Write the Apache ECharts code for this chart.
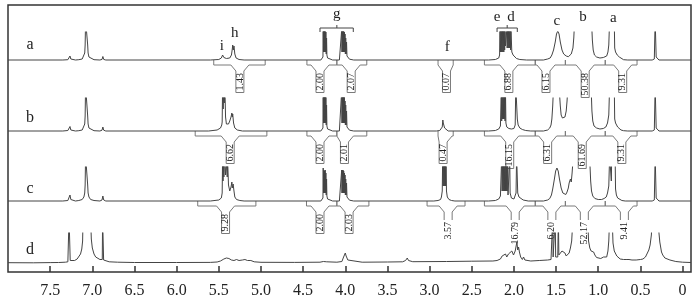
<!DOCTYPE html>
<html><head><meta charset="utf-8">
<script src="https://cdn.jsdelivr.net/npm/echarts@6/dist/echarts.min.js"></script>
<style>html,body{margin:0;padding:0;background:#fff}#c{width:699px;height:299px}</style>
</head><body><div id="c"></div>
<script>
// ================= DATA =================
const tickLabels = ['7.5','7.0','6.5','6.0','5.5','5.0','4.5','4.0','3.5','3.0','2.5','2.0','1.5','1.0','0.5','0'];
const rowNames = ['a','b','c','d'];

// spectra: [ppm, intensity] (intensity clipped by the display window of each trace)
const specA = [
[8.0,0],[7.35,0],[7.29,0.3],[7.275,1],[7.265,4],[7.255,1],[7.24,0.3],[7.2,0],
[7.16,0.3],[7.12,1],[7.10,3],[7.09,7],[7.085,15],[7.08,40],[7.06,40],[7.055,15],[7.05,7],[7.04,3],[7.02,1],[6.98,0.3],
[6.91,0],[6.885,0.6],[6.875,3.5],[6.865,0.6],[6.84,0],
[5.6,0],[5.5,0.5],[5.47,2],[5.455,5],[5.44,2.5],[5.41,1.5],[5.37,2],[5.35,5],[5.34,11],[5.335,15],[5.328,10],[5.32,14],[5.31,6],[5.295,2],[5.26,0.5],[5.2,0],
[4.29,0],[4.275,1],[4.265,3],[4.262,30],[4.258,8],[4.254,30],[4.25,8],[4.246,30],[4.242,8],[4.238,30],[4.234,8],[4.23,28],[4.226,6],[4.222,22],[4.218,5],[4.21,2],[4.19,0.8],[4.15,0],
[4.07,0],[4.05,1.5],[4.043,30],[4.039,8],[4.035,30],[4.031,8],[4.027,30],[4.023,8],[4.019,30],[4.015,8],[4.011,28],[4.007,8],[4.003,26],[3.999,6],[3.995,22],[3.99,6],[3.985,18],[3.98,4],[3.97,2],[3.95,0.8],[3.9,0],
[2.3,0],[2.22,0.5],[2.18,2],[2.17,5],[2.165,30],[2.16,8],[2.155,30],[2.15,8],[2.145,30],[2.14,8],[2.135,30],[2.13,8],[2.125,30],[2.12,8],[2.115,30],[2.11,10],[2.105,30],[2.10,14],[2.093,13],[2.085,30],[2.08,12],[2.075,30],[2.07,12],[2.065,30],[2.06,12],[2.055,30],[2.05,12],[2.045,30],[2.04,10],[2.035,30],[2.025,8],[2.01,5],[1.99,3],[1.97,1.5],[1.93,0.5],[1.85,0],
[1.65,0],[1.60,1],[1.57,2],[1.55,5],[1.53,10],[1.51,18],[1.495,26],[1.48,29],[1.465,26],[1.45,18],[1.43,10],[1.41,6],[1.38,4],[1.355,3.3],[1.34,3.5],[1.32,6],[1.30,12],[1.29,22],[1.28,40],[1.2,80],[1.08,40],[1.07,20],[1.06,10],[1.045,5],[1.02,3],[0.98,2],[0.94,2.5],
[0.90,4],[0.885,8],[0.875,15],[0.865,40],[0.81,40],[0.805,12],[0.795,8],[0.785,6],[0.775,5],[0.76,4],[0.75,3],[0.74,3],[0.73,1],[0.7,0.3],[0.65,0],
[0.36,0],[0.335,1],[0.33,3],[0.325,40],[0.318,40],[0.313,3],[0.305,1],[0.28,0],[-0.1,0]
];
const specB = [
[8.0,0],[7.35,0],[7.29,0.5],[7.275,1],[7.265,4.5],[7.255,1],[7.24,0.3],[7.2,0],
[7.16,0.3],[7.12,1],[7.10,3],[7.09,7],[7.085,15],[7.08,45],[7.06,45],[7.055,15],[7.05,7],[7.04,3],[7.02,1],[6.98,0.3],
[6.91,0],[6.885,0.8],[6.875,4],[6.865,0.8],[6.84,0],
[5.62,0],[5.52,1],[5.48,3],[5.465,6],[5.46,9],[5.455,45],[5.448,22],[5.442,45],[5.435,28],[5.428,45],[5.42,14],[5.41,7],[5.395,6],[5.385,7],[5.37,10],[5.355,14],[5.345,18],[5.34,14],[5.335,17],[5.325,8],[5.31,3],[5.28,1],[5.22,0],
[4.29,0],[4.275,1],[4.265,3],[4.262,40],[4.258,8],[4.254,40],[4.25,8],[4.246,40],[4.242,8],[4.238,40],[4.234,8],[4.23,36],[4.226,6],[4.222,26],[4.218,5],[4.21,2],[4.19,0.8],[4.15,0],
[4.07,0],[4.05,1.5],[4.043,40],[4.039,8],[4.035,40],[4.031,8],[4.027,40],[4.023,8],[4.019,40],[4.015,8],[4.011,34],[4.007,8],[4.003,30],[3.999,6],[3.995,26],[3.99,6],[3.985,20],[3.98,4],[3.97,2],[3.95,0.8],[3.9,0],
[2.92,0],[2.88,0.5],[2.86,1.5],[2.85,4],[2.843,11],[2.838,8],[2.833,10],[2.828,7],[2.822,3],[2.81,1],[2.78,0],
[2.3,0],[2.22,0.5],[2.18,2],[2.16,5],[2.15,40],[2.145,10],[2.14,40],[2.135,12],[2.13,40],[2.125,12],[2.12,40],[2.115,12],[2.11,40],[2.105,10],[2.10,40],[2.095,8],[2.085,4],[2.06,2.5],[2.03,2],[2.0,2.5],[1.985,6],[1.978,45],[1.968,45],[1.96,12],[1.95,6],[1.93,3],[1.9,1.5],[1.86,0.5],[1.8,0],
[1.65,0],[1.60,1],[1.575,3],[1.56,6],[1.55,12],[1.54,25],[1.53,45],[1.465,45],[1.45,25],[1.44,16],[1.425,13],[1.41,12.5],[1.395,14],[1.38,20],[1.37,30],[1.36,45],[1.2,100],[1.085,45],[1.075,20],[1.065,10],[1.05,5],[1.02,3],[0.98,2],[0.94,2.5],
[0.91,4],[0.89,8],[0.875,16],[0.865,45],[0.81,45],[0.805,12],[0.795,8],[0.785,6],[0.77,4],[0.75,2.5],[0.73,1],[0.7,0.3],[0.65,0],
[0.36,0],[0.335,1],[0.33,3],[0.325,45],[0.318,45],[0.313,3],[0.305,1],[0.28,0],[-0.1,0]
];
const specC = [
[8.0,0],[7.35,0],[7.29,0.5],[7.275,1.5],[7.265,6],[7.255,1.5],[7.24,0.5],[7.2,0],
[7.16,0.5],[7.12,1.5],[7.10,4],[7.09,8],[7.085,16],[7.08,45],[7.06,45],[7.055,16],[7.05,8],[7.04,4],[7.02,1.5],[6.98,0.5],
[6.91,0],[6.885,1],[6.875,5],[6.865,1],[6.84,0],
[5.6,0],[5.5,1],[5.47,3],[5.46,8],[5.455,45],[5.45,20],[5.445,45],[5.44,24],[5.43,45],[5.42,26],[5.41,38],[5.40,24],[5.395,40],[5.385,16],[5.37,10],[5.355,14],[5.345,19],[5.34,13],[5.33,17],[5.32,10],[5.31,4],[5.29,1.5],[5.25,0.5],[5.2,0],
[4.29,0],[4.275,1],[4.265,3],[4.262,33],[4.258,8],[4.254,31],[4.25,8],[4.246,30],[4.242,8],[4.238,31],[4.234,8],[4.23,28],[4.226,6],[4.222,22],[4.218,5],[4.21,2],[4.19,0.8],[4.15,0],
[4.07,0],[4.05,1.5],[4.043,31],[4.039,8],[4.035,31],[4.031,8],[4.027,31],[4.023,8],[4.019,30],[4.015,8],[4.011,28],[4.007,8],[4.003,26],[3.999,6],[3.995,22],[3.99,6],[3.985,18],[3.98,4],[3.97,2],[3.95,0.8],[3.9,0],
[2.95,0],[2.9,0.5],[2.87,1.5],[2.86,4],[2.85,10],[2.845,45],[2.84,15],[2.835,45],[2.83,15],[2.825,45],[2.82,15],[2.815,45],[2.81,15],[2.805,45],[2.80,10],[2.79,4],[2.77,1.5],[2.74,0.5],[2.7,0],
[2.3,0],[2.22,0.5],[2.18,2],[2.16,5],[2.145,45],[2.14,10],[2.135,45],[2.13,10],[2.125,45],[2.12,10],[2.115,45],[2.11,10],[2.105,45],[2.10,10],[2.095,45],[2.09,10],[2.085,45],[2.08,10],[2.075,45],[2.07,6],[2.06,4],[2.055,8],[2.05,45],[2.045,8],[2.03,3],[2.0,2],[1.985,3],[1.975,8],[1.968,45],[1.962,45],[1.955,8],[1.94,4],[1.92,2],[1.89,1],[1.83,0],
[1.65,0],[1.60,1],[1.575,2.5],[1.555,6],[1.54,12],[1.52,22],[1.505,30],[1.49,33],[1.475,30],[1.46,22],[1.44,13],[1.42,8],[1.40,6],[1.385,6.5],[1.37,9],[1.355,13],[1.345,18],[1.335,16],[1.33,22],[1.32,19],[1.31,28],[1.30,40],[1.2,100],[1.10,40],[1.09,20],[1.08,10],[1.065,5],[1.04,2.5],[1.0,1.5],[0.96,1.5],
[0.93,2.5],[0.905,4],[0.89,8],[0.875,15],[0.865,45],[0.85,45],[0.845,20],[0.84,45],[0.80,45],[0.795,12],[0.785,6],[0.77,3],[0.75,1.5],[0.72,0.5],[0.68,0],
[0.36,0],[0.335,1],[0.33,3],[0.325,45],[0.318,45],[0.313,3],[0.305,1],[0.28,0],[-0.1,0]
];
const specD = [
[8.0,0.3],[7.7,0.2],[7.5,0.4],[7.4,0.5],[7.32,0.8],[7.29,1.2],[7.28,2],[7.276,45],[7.266,45],[7.262,2.5],[7.24,2],[7.21,2.5],[7.18,4],[7.16,6],[7.14,9],[7.125,14],[7.115,22],[7.11,45],[7.02,45],[7.012,24],[7.0,15],[6.98,9],[6.96,6],[6.94,4.5],[6.91,3.5],[6.89,3],[6.882,3.5],[6.878,45],[6.87,45],[6.866,3],[6.85,2],[6.8,1.2],[6.7,0.8],[6.5,0.5],[6.0,0.5],[5.6,0.6],
[5.52,1],[5.48,2],[5.44,4],[5.41,5],[5.38,4.5],[5.35,3],[5.32,2.5],[5.29,3.5],[5.26,2.5],[5.22,3],[5.19,3.5],[5.16,2.5],[5.12,2.5],[5.08,1.2],[5.0,0.7],[4.6,0.6],
[4.3,0.8],[4.26,1.5],[4.24,2.2],[4.22,1.2],[4.1,0.8],[4.04,1.5],[4.02,6],[4.0,10],[3.99,7],[3.97,3],[3.95,1.2],[3.8,0.8],[3.5,1],[3.32,1.2],[3.285,2.5],[3.265,5],[3.25,2.5],[3.2,1.3],[2.8,1.5],[2.5,1.8],[2.25,2],
[2.2,2.5],[2.16,4],[2.14,7],[2.12,6],[2.10,9],[2.085,6],[2.065,9],[2.045,7],[2.025,12],[2.005,8],[1.985,12],[1.975,10],[1.965,21],[1.955,13],[1.945,16],[1.935,11],[1.92,6],[1.90,3.5],[1.886,6],[1.87,3],[1.85,2.5],[1.8,2],[1.7,2.5],[1.6,3],
[1.56,3.5],[1.545,5],[1.54,45],[1.535,6],[1.515,5],[1.51,45],[1.505,6],[1.48,6],[1.473,45],[1.467,8],[1.45,9],[1.43,12],[1.41,13],[1.395,10],[1.38,7],[1.36,7.5],[1.345,10],[1.33,15],[1.315,22],[1.30,45],[1.2,100],[1.125,45],[1.115,22],[1.10,15],[1.085,12],[1.07,10],[1.055,11],[1.04,8],[1.02,5.5],[1.0,4.5],[0.97,4.5],[0.95,5],[0.937,6],[0.92,5],
[0.90,6],[0.885,12],[0.875,22],[0.865,45],[0.835,45],[0.825,20],[0.81,12],[0.80,11],[0.78,7],[0.76,5],[0.74,4],[0.70,3.5],[0.66,3.5],[0.645,5],[0.635,3.5],[0.6,3],[0.55,3],[0.5,3.5],[0.47,4],[0.44,6],[0.42,8],[0.40,13],[0.385,18],[0.37,28],[0.36,45],[0.29,45],[0.28,30],[0.27,21],[0.25,11],[0.235,8],[0.21,5],[0.15,3],[0.08,1.5],[0.0,0.8],[-0.1,0.5]
];

// peak assignments above trace a
const peakNames = ['i','h','g','f','e','d','c','b','a'];
const peakPpm   = [5.465, 5.31, 4.10, 2.79, 2.20, 2.035, 1.49, 1.18, 0.82];
// group braces [from ppm, to ppm, centre ppm]
const braceRanges = [[4.30, 3.905, 4.10], [2.20, 1.96, 2.08]];

// integration regions [from, to, label position] and integral values
const integA = [[5.56,4.95,5.25],[4.455,4.10,4.30],[4.10,3.745,3.93],[2.90,2.72,2.80],[2.35,1.747,2.06],[1.747,1.39,1.62],[1.39,0.917,1.155],[0.917,0.54,0.71]];
const integLabelsA = ['1.43','2.00','2.07','0.07','6.88','6.15','50.38','9.31'];
const integB = [[5.78,4.93,5.365],[4.455,4.10,4.30],[4.10,3.745,4.01],[2.90,2.72,2.84],[2.35,1.747,2.05],[1.747,1.39,1.60],[1.39,0.917,1.19],[0.917,0.54,0.72]];
const integLabelsB = ['6.62','2.00','2.01','0.47','16.15','6.31','61.69','9.31'];
const integC = [[5.75,5.06,5.42],[4.46,4.10,4.30],[4.10,3.72,3.955],[3.03,2.58,2.78],[2.35,1.747,1.985],[1.747,1.39,1.55],[1.39,0.917,1.165],[0.917,0.54,0.69]];
const integLabelsC = ['9.28','2.00','2.03','3.57','16.79','6.20','52.17','9.41'];

// ================= LAYOUT / STYLE =================
const FONT = '"Liberation Serif", "Times New Roman", serif';
const LINE = '#444';
const BRK = '#7a7a7a';
const TXT = '#222';
const PPM_MIN = -0.1, PPM_MAX = 8.0;
const peakLabelH = [14, 27, 46, 13, 43, 43, 39, 43, 42];

const chart = echarts.init(document.getElementById('c'), null, {renderer: 'canvas'});

function hiddenX(gi){return {gridIndex:gi,type:'value',min:PPM_MIN,max:PPM_MAX,inverse:true,show:false};}
function hiddenY(gi,min,max){return {gridIndex:gi,type:'value',min:min,max:max,show:false};}

function textLen(t){let s=0;for(const ch of t){s+= ch==='.'?2.5:5;}return s;}

function bracketRenderer(ranges, labels, belowFrom){
  return function(params, api){
    const i = params.dataIndex;
    const r = ranges[i];
    const p1 = api.coord([r[0],0]);
    const x1 = p1[0], y0 = p1[1];
    const x2 = api.coord([r[1],0])[0];
    const xc = api.coord([r[2],0])[0];
    const t = labels[i];
    const len = textLen(t);
    const bw = 8, top = y0 + 11;
    const below = belowFrom != null && i >= belowFrom;
    const bh = below ? 8 : len + 4;
    const xl = Math.max(x1, xc - bw/2 - 5), xr = Math.min(x2, xc + bw/2 + 5);
    const children = [];
    const leftPts = [[x1,y0],[x1,y0+5],[xl,y0+5],[xc-bw/2,top],[xc-bw/2,top+bh]];
    const rightPts = [[xc+bw/2,top+bh],[xc+bw/2,top],[xr,y0+5],[x2,y0+5],[x2,y0]];
    if(below){
      children.push({type:'polyline',shape:{points:leftPts},style:{stroke:BRK,lineWidth:1,fill:null}});
      children.push({type:'polyline',shape:{points:rightPts},style:{stroke:BRK,lineWidth:1,fill:null}});
    } else {
      children.push({type:'polyline',shape:{points:leftPts.concat(rightPts)},style:{stroke:BRK,lineWidth:1,fill:null}});
    }
    const ty = below ? top + bh + len/2 + 2 : top + bh/2;
    children.push({type:'text',x:xc,y:ty,rotation:Math.PI/2,
      style:{text:t,font:'10px '+FONT,fill:TXT,align:'center',verticalAlign:'middle'}});
    return {type:'group',children:children};
  };
}

const spectra = [specA, specB, specC, specD];
const series = spectra.map((s,k)=>({
  type:'line', xAxisIndex:2+k, yAxisIndex:2+k, data:s, showSymbol:false, symbol:'none',
  lineStyle:{color:LINE,width:1}, clip:true, silent:true, animation:false
}));

series.push({type:'custom', xAxisIndex:2, yAxisIndex:2, data:integA.map(r=>[r[2],0]), renderItem:bracketRenderer(integA,integLabelsA,null), silent:true, animation:false});
series.push({type:'custom', xAxisIndex:3, yAxisIndex:3, data:integB.map(r=>[r[2],0]), renderItem:bracketRenderer(integB,integLabelsB,null), silent:true, animation:false});
series.push({type:'custom', xAxisIndex:4, yAxisIndex:4, data:integC.map(r=>[r[2],0]), renderItem:bracketRenderer(integC,integLabelsC,3), silent:true, animation:false});

// peak labels
series.push({type:'custom', xAxisIndex:2, yAxisIndex:2, data:peakPpm.map(p=>[p,0]), silent:true, animation:false,
  renderItem:function(params, api){
    const i = params.dataIndex;
    const p = api.coord([peakPpm[i], peakLabelH[i]]);
    return {type:'text', x:p[0], y:p[1], style:{text:peakNames[i], font:'15px '+FONT, fill:TXT, align:'center', verticalAlign:'middle'}};
  }});
// braces
series.push({type:'custom', xAxisIndex:2, yAxisIndex:2, data:braceRanges.map(b=>[b[2],0]), silent:true, animation:false,
  renderItem:function(params, api){
    const b = braceRanges[params.dataIndex];
    const a = api.coord([b[0],28]), l = api.coord([b[0],32]), c = api.coord([b[2],32]), cu = api.coord([b[2],35]);
    const r = api.coord([b[1],32]), rd = api.coord([b[1],28]);
    return {type:'group',children:[
      {type:'polyline',shape:{points:[a,l,r,rd]},style:{stroke:'#444',lineWidth:1,fill:null}},
      {type:'line',shape:{x1:c[0],y1:c[1],x2:cu[0],y2:cu[1]},style:{stroke:'#444',lineWidth:1}}
    ]};
  }});

const rowLabelPos = [[30,45],[30,118],[30,189],[30,250]];

chart.setOption({
  animation:false,
  backgroundColor:'#fff',
  grid:[
    {left:8,right:8,top:5,bottom:27,show:true,borderColor:'#333',borderWidth:1.5,backgroundColor:'transparent'},
    {left:50.16,right:16.44,top:5,bottom:27},
    {left:8,right:8,top:32,height:58},
    {left:8,right:8,top:98,height:63},
    {left:8,right:8,top:167,height:74},
    {left:8,right:8,top:233,height:39}
  ],
  xAxis:[
    {gridIndex:0,type:'value',min:0,max:1,show:false},
    {gridIndex:1,type:'value',min:0,max:7.5,interval:0.5,inverse:true,position:'bottom',
      axisLine:{show:false},
      axisTick:{show:true,inside:true,length:6,lineStyle:{color:'#333',width:1.5}},
      splitLine:{show:false},
      axisLabel:{show:true,margin:11,fontFamily:FONT,fontSize:16,color:TXT,
        formatter:function(v){const k=Math.round((7.5-v)/0.5);return tickLabels[k]!==undefined?tickLabels[k]:'';}}},
    hiddenX(2),hiddenX(3),hiddenX(4),hiddenX(5)
  ],
  yAxis:[
    {gridIndex:0,type:'value',min:0,max:1,show:false},
    {gridIndex:1,type:'value',min:0,max:1,show:false},
    hiddenY(2,-30,28),hiddenY(3,-30,33),hiddenY(4,-40,34),hiddenY(5,-9,30)
  ],
  graphic: rowNames.map((n,k)=>({type:'text',x:rowLabelPos[k][0],y:rowLabelPos[k][1],silent:true,
    style:{text:n,font:'16px '+FONT,fill:TXT,align:'center',verticalAlign:'middle'}})),
  series:series
});
</script>
</body></html>
